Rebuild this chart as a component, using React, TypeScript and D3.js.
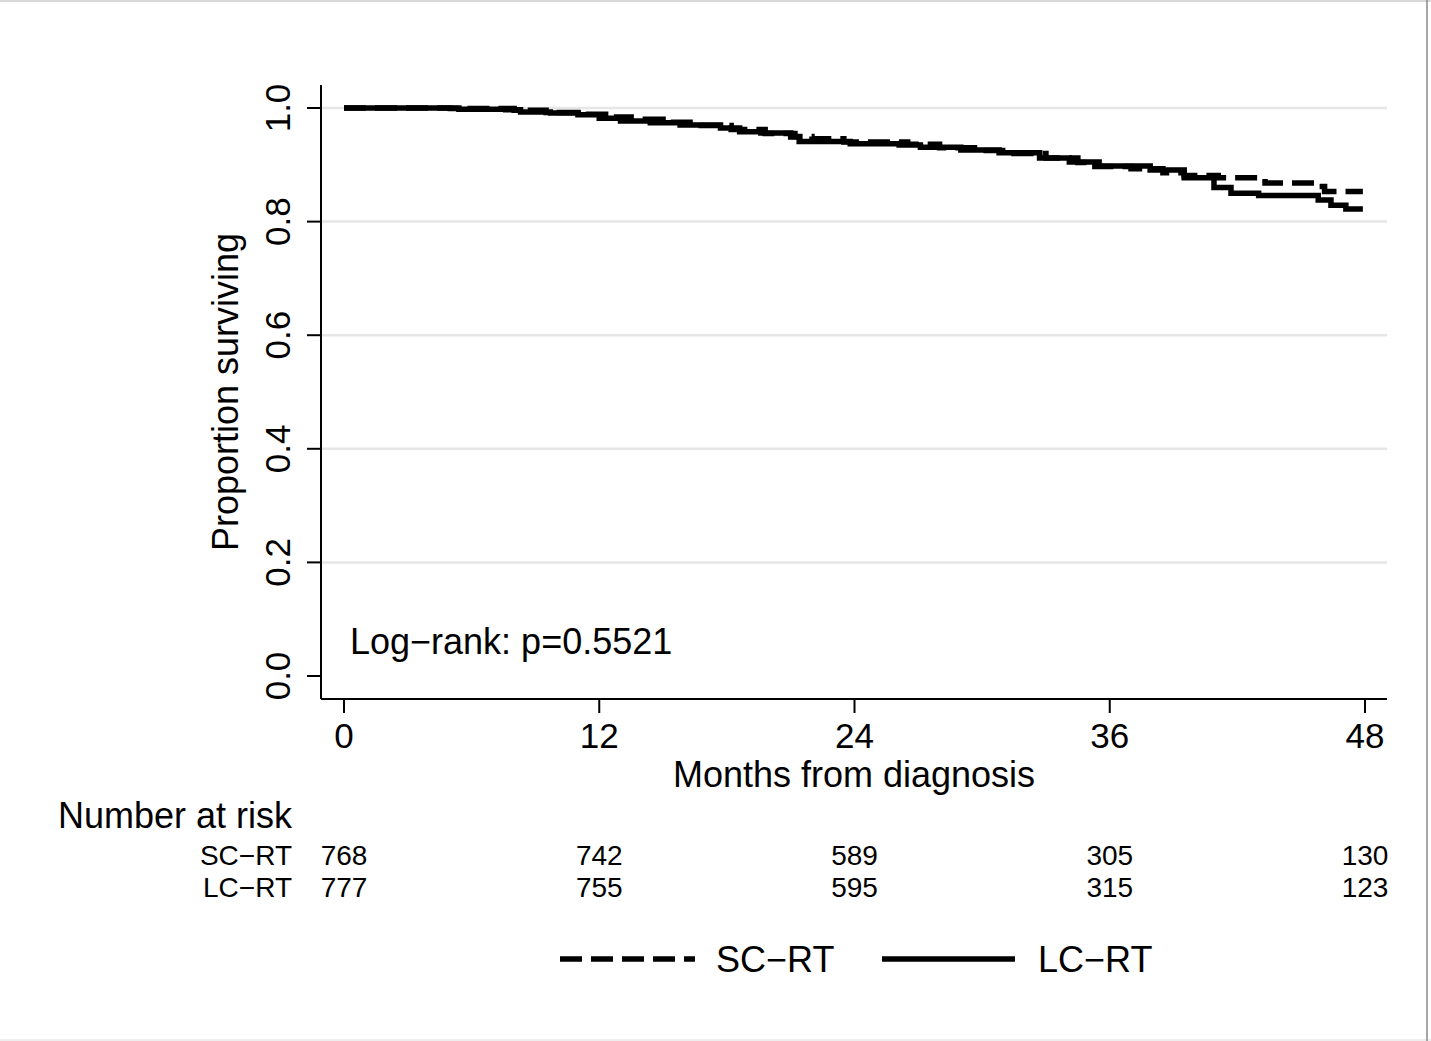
import React from "react";
import * as d3 from "d3";

// ---- Data ----
const xTicks = [0, 12, 24, 36, 48];
const yTicks = [0, 0.2, 0.4, 0.6, 0.8, 1.0];
const gridTicks = [0.2, 0.4, 0.6, 0.8, 1.0];

// Kaplan-Meier steps: [month, survival]
const scrtSteps: [number, number][] = [
  [0, 1.0], [5.0, 0.999], [8.0, 0.996], [9.5, 0.992], [11.0, 0.989], [12.3, 0.984],
  [13.5, 0.98], [15.0, 0.975], [16.5, 0.969], [18.2, 0.962], [19.8, 0.955],
  [21.2, 0.95], [22.0, 0.946], [23.5, 0.94], [26.5, 0.936], [28.0, 0.93],
  [30.0, 0.925], [31.5, 0.92], [33.0, 0.912], [34.5, 0.904], [35.3, 0.897],
  [37.0, 0.893], [38.5, 0.886], [39.5, 0.881], [41.1, 0.877], [43.3, 0.868],
  [45.7, 0.862], [46.1, 0.853], [47.9, 0.853],
];
const lcrtSteps: [number, number][] = [
  [0, 1.0], [5.4, 0.998], [7.6, 0.997], [8.3, 0.993], [9.7, 0.991], [11.0, 0.988],
  [12.0, 0.982], [13.0, 0.977], [14.4, 0.974], [15.8, 0.97], [17.7, 0.965],
  [18.6, 0.958], [19.6, 0.956], [21.0, 0.949], [21.4, 0.941], [23.8, 0.937],
  [26.1, 0.935], [27.1, 0.931], [29.0, 0.926], [30.8, 0.921], [32.7, 0.912],
  [34.1, 0.905], [35.5, 0.898], [37.9, 0.891], [39.5, 0.877], [40.9, 0.86],
  [41.7, 0.85], [43.0, 0.846], [45.8, 0.838], [46.4, 0.829], [47.1, 0.822],
  [47.9, 0.822],
];

const groups = ["SC\u2212RT", "LC\u2212RT"];
const riskTimes = [0, 12, 24, 36, 48];
const riskSC = [768, 742, 589, 305, 130];
const riskLC = [777, 755, 595, 315, 123];
const pText = "Log\u2212rank: p=0.5521";

const FONT = "'Liberation Sans', Arial, Helvetica, sans-serif";

export default function App() {
  const W = 1431, H = 1041;
  const x = d3.scaleLinear().domain([0, 48]).range([344, 1365]);
  const y = d3.scaleLinear().domain([0, 1]).range([676, 108]);
  const line = d3
    .line<[number, number]>()
    .x((d) => x(d[0]))
    .y((d) => y(d[1]))
    .curve(d3.curveStepAfter);

  const axL = 321, axR = 1387, axB = 699, axT = 85;
  const riskRows = [riskSC, riskLC];

  return (
    <svg
      width={W}
      height={H}
      style={{ position: "absolute", left: 0, top: 0, background: "#fff" }}
      fontFamily={FONT}
    >
      <rect x={0} y={0} width={W} height={H} fill="#fff" />
      {/* frame */}
      <line x1={0} x2={W} y1={1} y2={1} stroke="#d8d8d8" strokeWidth={2} />
      <line x1={0} x2={W} y1={1040} y2={1040} stroke="#eeeeee" strokeWidth={2} />
      <line x1={1427} x2={1427} y1={0} y2={H} stroke="#888" strokeWidth={1.5} />

      {/* grid */}
      {gridTicks.map((t) => (
        <line key={t} x1={axL} x2={axR} y1={y(t)} y2={y(t)} stroke="#e6e6e6" strokeWidth={2.5} />
      ))}

      {/* axes */}
      <line x1={axL} x2={axL} y1={axT} y2={axB} stroke="#000" strokeWidth={2} />
      <line x1={axL} x2={axR} y1={axB} y2={axB} stroke="#000" strokeWidth={2} />
      {yTicks.map((t) => (
        <g key={t}>
          <line x1={307} x2={axL} y1={y(t)} y2={y(t)} stroke="#000" strokeWidth={2} />
          <text
            transform={`translate(290,${y(t)}) rotate(-90)`}
            textAnchor="middle"
            fontSize={35}
            fill="#000"
          >
            {t.toFixed(1)}
          </text>
        </g>
      ))}
      {xTicks.map((t) => (
        <g key={t}>
          <line x1={x(t)} x2={x(t)} y1={axB} y2={713} stroke="#000" strokeWidth={2} />
          <text x={x(t)} y={748} textAnchor="middle" fontSize={35} fill="#000">
            {t}
          </text>
        </g>
      ))}
      <text x={854} y={787} textAnchor="middle" fontSize={36} fill="#000">
        Months from diagnosis
      </text>
      <text
        transform={`translate(238,392) rotate(-90)`}
        textAnchor="middle"
        fontSize={36}
        fill="#000"
      >
        Proportion surviving
      </text>

      {/* curves */}
      <path d={line(lcrtSteps) || ""} fill="none" stroke="#000" strokeWidth={5.5} />
      <path
        d={line(scrtSteps) || ""}
        fill="none"
        stroke="#000"
        strokeWidth={5.5}
        strokeDasharray="22 9"
      />

      <text x={350} y={654} fontSize={36} fill="#000">
        {pText}
      </text>

      {/* number at risk */}
      <text x={292} y={828} textAnchor="end" fontSize={36} fill="#000">
        Number at risk
      </text>
      {groups.map((g, i) => (
        <g key={g}>
          <text x={292} y={865 + i * 32} textAnchor="end" fontSize={28} fill="#000">
            {g}
          </text>
          {riskTimes.map((t, j) => (
            <text key={t} x={x(t)} y={865 + i * 32} textAnchor="middle" fontSize={28} fill="#000">
              {riskRows[i][j]}
            </text>
          ))}
        </g>
      ))}

      {/* legend */}
      <line x1={560} x2={695} y1={959} y2={959} stroke="#000" strokeWidth={5.5} strokeDasharray="22 9" />
      <text x={716} y={972} fontSize={36} fill="#000">
        {groups[0]}
      </text>
      <line x1={882} x2={1015} y1={959} y2={959} stroke="#000" strokeWidth={5.5} />
      <text x={1038} y={972} fontSize={36} fill="#000">
        {groups[1]}
      </text>
    </svg>
  );
}
